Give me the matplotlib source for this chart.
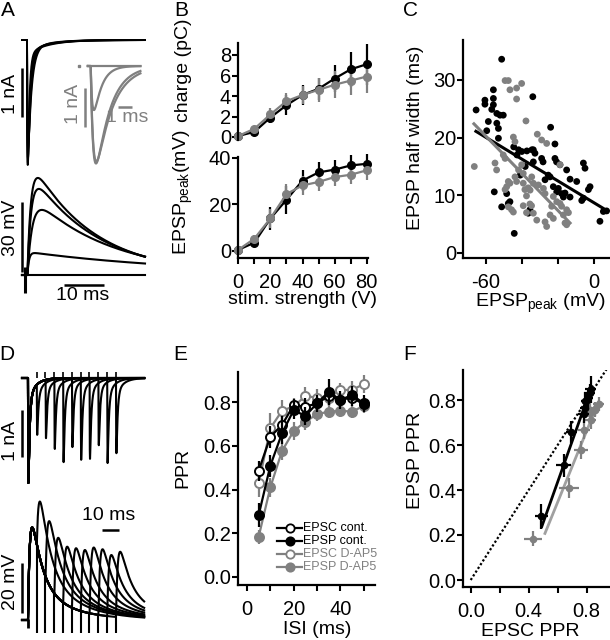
import numpy as np
import matplotlib
matplotlib.use('Agg')
import matplotlib.pyplot as plt
from matplotlib.lines import Line2D

W, H = 610, 640
BLACK = '#000000'
GREY = '#808080'
LGREY = '#a0a0a0'

# ---------------- values ----------------
# B: input-output curves
stim_v = [0, 10, 20, 30, 40, 50, 60, 70, 80]
charge_cont = [0.1, 0.5, 1.9, 3.1, 4.1, 4.7, 5.7, 6.6, 7.1]
charge_cont_sem = [0.1, 0.2, 0.5, 1.0, 1.0, 1.1, 1.3, 1.7, 2.0]
charge_dap5 = [0.1, 0.8, 2.2, 3.5, 4.1, 4.6, 5.1, 5.5, 5.9]
charge_dap5_sem = [0.1, 0.3, 0.6, 0.8, 0.9, 1.2, 1.3, 1.4, 1.6]
epsp_cont = [0.5, 3.6, 14.0, 22.0, 30.3, 33.8, 35.0, 36.8, 37.5]
epsp_cont_sem = [0.5, 1.5, 5.0, 6.0, 4.6, 4.5, 4.3, 4.3, 4.3]
epsp_dap5 = [0.5, 5.3, 14.0, 24.5, 28.2, 29.7, 31.8, 32.8, 34.7]
epsp_dap5_sem = [0.5, 1.5, 4.0, 4.5, 4.0, 4.0, 4.0, 4.0, 4.0]

# C: half width vs EPSP peak
c_black_x = [-51.3, -55.9, -60.6, -60.6, -55.9, -55.9, -56.8, -65.5, -54.0, -52.2,
             -50.4, -58.7, -54.0, -53.1, -59.6, -53.1, -34.0, -44.6, -41.9, -40.1,
             -37.3, -34.5, -42.8, -38.2, -41.0, -55.4, -51.3, -47.6, -46.7, -48.5,
             -44.3, -36.5, -35.6, -24.1, -21.7, -33.7, -32.8, -33.7, -29.1, -28.3,
             -21.7, -20.8, -18.9, -15.2, -5.9, -5.0, -25.4, -24.4, -27.2, -13.3,
             -9.6, -22.6, -19.8, -20.7, -18.0, -17.0, -13.3, -16.1, -5.9, -6.8,
             -2.2, -3.1, 5.2, 7.0, 3.3]
c_black_y = [33.6, 28.3, 26.5, 25.8, 26.8, 25.7, 24.9, 24.8, 24.2, 23.9,
             23.9, 22.8, 22.5, 21.6, 21.2, 19.9, 27.1, 18.4, 17.9, 17.6,
             17.7, 17.9, 17.0, 15.0, 13.5, 10.6, 8.0, 8.6, 8.9, 10.3,
             3.4, 6.9, 7.5, 21.8, 18.9, 17.9, 17.3, 15.8, 16.4, 15.8,
             16.4, 15.8, 15.3, 14.4, 15.6, 14.7, 13.5, 13.2, 12.7, 12.8,
             12.4, 11.5, 11.2, 10.6, 10.3, 9.7, 9.7, 10.4, 9.5, 9.1,
             11.5, 11.0, 7.2, 7.3, 5.5]
c_grey_x = [-49.4, -47.6, -46.7, -43.0, -40.2, -43.0, -37.8, -66.5, -55.0, -54.1,
            -50.4, -49.4, -44.8, -43.9, -47.6, -48.5, -49.4, -46.7, -47.6, -45.8,
            -44.8, -43.0, -39.3, -38.4, -36.5, -37.5, -35.6, -34.7, -39.3, -37.5,
            -41.9, -40.2, -43.9, -39.3, -31.5, -29.1, -26.3, -18.9, -22.6, -20.7,
            -23.5, -18.9, -18.0, -15.2, -14.2, -17.0, -16.1, -15.2, -24.4, -22.6,
            -27.2, -26.3, -31.8, -33.7, -30.9, -28.1, -27.2, -34.6, -33.7, -35.5]
c_grey_y = [29.9, 29.9, 28.3, 28.6, 29.4, 26.7, 22.9, 15.0, 15.6, 14.4,
            17.0, 16.4, 20.1, 19.3, 12.4, 11.5, 11.0, 12.1, 8.0, 7.5,
            7.1, 12.4, 12.1, 11.0, 11.3, 9.9, 8.5, 8.2, 8.2, 7.0,
            14.4, 15.3, 13.2, 13.8, 20.6, 19.6, 19.0, 15.3, 9.8, 8.9,
            8.1, 8.6, 8.1, 7.5, 7.0, 6.6, 5.2, 4.9, 6.6, 6.0,
            5.4, 4.6, 5.7, 6.9, 11.8, 11.2, 10.3, 13.2, 12.1, 10.9]
c_fit_black_x = [-65.6, 8.0]
c_fit_black_y = [21.1, 7.2]
c_fit_grey_x = [-66.7, -13.3]
c_fit_grey_y = [22.4, 5.2]

# E: paired-pulse ratio vs ISI
isi_ms = [5, 10, 15, 20, 25, 30, 35, 40, 45, 50]
ppr_epsc_cont = [0.486, 0.641, 0.695, 0.786, 0.778, 0.794, 0.827, 0.81, 0.82, 0.79]
ppr_epsc_cont_sem = [0.046, 0.05, 0.04, 0.03, 0.04, 0.03, 0.04, 0.03, 0.04, 0.03]
ppr_epsp_cont = [0.283, 0.509, 0.657, 0.763, 0.736, 0.794, 0.847, 0.809, 0.832, 0.794]
ppr_epsp_cont_sem = [0.055, 0.05, 0.05, 0.04, 0.04, 0.04, 0.06, 0.04, 0.04, 0.04]
ppr_epsc_dap5 = [0.428, 0.68, 0.76, 0.78, 0.827, 0.82, 0.82, 0.855, 0.855, 0.882]
ppr_epsc_dap5_sem = [0.063, 0.07, 0.05, 0.04, 0.04, 0.04, 0.04, 0.03, 0.04, 0.04]
ppr_epsp_dap5 = [0.184, 0.41, 0.576, 0.667, 0.71, 0.744, 0.756, 0.76, 0.756, 0.782]
ppr_epsp_dap5_sem = [0.033, 0.044, 0.04, 0.04, 0.04, 0.03, 0.03, 0.03, 0.03, 0.03]

# F: regression lines EPSP PPR vs EPSC PPR
f_fit_black_x = [0.49, 0.834]
f_fit_black_y = [0.237, 0.86]
f_fit_grey_x = [0.512, 0.88]
f_fit_grey_y = [0.207, 0.79]

# A: example traces (peak amplitudes and kinetics)
a_epsc_amp = [2.55, 2.5, 2.4, 2.2]          # nA
a_epsc_tau = [0.4, 0.55, 0.7, 0.9]          # ms
inset_amp = [2.5, 2.45, 1.13, 0.0]          # nA
inset_tau = [1.0, 1.15, 0.55, 1.0]
inset_rise = [0.22, 0.22, 0.15, 0.2]
a_epsp_amp = [41.6, 36.9, 27.9, 9.4, 0.0]   # mV
a_epsp_rise = [0.9, 1.0, 1.3, 0.4, 1.0]
a_epsp_tau = [15.5, 16.5, 19.5, 42.0, 10.0]

# D: paired-pulse traces (peak level of the second response per ISI)
d_first_epsc = 2.23                          # nA
d_second_epsc = [1.21, 1.28, 1.51, 1.79, 1.47, 1.74, 1.72, 1.43, 1.81, 1.60]
d_first_epsp = 37.0                          # mV
d_second_epsp = [46.4, 39.3, 32.8, 29.3, 28.7, 28.0, 29.0, 28.3, 26.0, 27.3]


def kinetic(t, rise, taus, weights):
    """Unit-peak synaptic waveform, zero before t=0."""
    def raw(x):
        x = np.clip(x, 0, None)
        return (1 - np.exp(-x / rise)) * sum(w * np.exp(-x / tau) for w, tau in zip(weights, taus))
    grid = np.linspace(0, 6 * max(taus), 20000)
    g = raw(grid)
    y = raw(np.asarray(t, dtype=float)) / g.max()
    y[np.asarray(t) < 0] = 0
    return y, grid[np.argmax(g)]


plt.rcParams.update({
    'font.family': ['Liberation Sans', 'DejaVu Sans'],
    'font.size': 14,
    'axes.unicode_minus': False,
    'mathtext.fontset': 'custom',
    'mathtext.rm': 'Liberation Sans',
    'mathtext.it': 'Liberation Sans:italic',
})

fig = plt.figure(figsize=(W / 100, H / 100), dpi=100)


def px_axes(x0, y0, x1, y1):
    return fig.add_axes([x0 / W, 1 - y1 / H, (x1 - x0) / W, (y1 - y0) / H])


def trace_axes(box, t0, sx, base, sy):
    x0, y0, x1, y1 = box
    ax = px_axes(*box)
    ax.set_xlim((x0 - t0) / sx, (x1 - t0) / sx)
    ax.set_ylim((base - y1) / sy, (base - y0) / sy)
    ax.axis('off')
    return ax


def style(ax, xlim, ylim):
    ax.set_xlim(xlim)
    ax.set_ylim(ylim)
    ax.patch.set_alpha(0)
    for s in ('top', 'right'):
        ax.spines[s].set_visible(False)
    for s in ('left', 'bottom'):
        ax.spines[s].set_linewidth(1.6)
    ax.tick_params(which='both', direction='out', length=4, width=1.5, labelsize=14.5)
    ax.tick_params(axis='y', pad=1)
    ax.tick_params(axis='x', pad=7)


def ftext(x, y, s, **kw):
    fig.text(x / W, 1 - y / H, s, ha='center', va='center', **kw)


def bar(ax, xs, ys, color=BLACK, lw=1.8):
    ax.plot(xs, ys, color=color, lw=lw, solid_capstyle='butt', clip_on=False)


# ---------------- panel letters ----------------
for letter, (x, y) in zip('ABCDEF', [(8, 10), (181, 10), (410, 11), (7, 354), (180, 354), (410, 354)]):
    ftext(x, y, letter, fontsize=15)

# ---------------- A: traces ----------------
axA1 = trace_axes((15, 30, 150, 172), 27, 4.0, 40, 49.0)
t = np.linspace(-1.25, 29.5, 6000)
for amp, tau in zip(a_epsc_amp, a_epsc_tau):
    y, _ = kinetic(t, 0.12, [tau, 5.0], [0.94, 0.06])
    axA1.plot(t, -amp * y, color=BLACK, lw=1.4)
bar(axA1, [-1.25, -1.25], [-0.571, -1.571])
ftext(11, 94, '1 nA', rotation=90)

axIn = trace_axes((75, 55, 150, 172), 90, 14.0, 66, 39.0)
ti = np.linspace(-0.15, 3.6, 3000)
for amp, tau, rise in zip(inset_amp, inset_tau, inset_rise):
    y, _ = kinetic(ti - 0.05, rise, [tau], [1.0])
    axIn.plot(ti, -amp * y, color=GREY, lw=1.6)
axIn.plot([-0.79], [0.0], marker='s', ms=2, color=GREY, clip_on=False)
bar(axIn, [-0.36, -0.36], [-0.564, -1.564], color=GREY)
bar(axIn, [2.0, 3.0], [-1.05, -1.05], color=GREY)
ftext(74, 104, '1 nA', rotation=90, color=GREY)
ftext(127, 118, '1 ms', color=GREY)

axA2 = trace_axes((15, 170, 150, 305), 27, 4.0, 275, 2.333)
for amp, rise, tau in zip(a_epsp_amp, a_epsp_rise, a_epsp_tau):
    y, _ = kinetic(t - 0.1, rise, [tau], [1.0])
    axA2.plot(t, amp * y, color=BLACK, lw=1.5)
bar(axA2, [-0.4, -0.4], [-7.7, 3.4], lw=2.2)
bar(axA2, [-1.25, -1.25], [31.3, 1.3])
bar(axA2, [9.25, 19.25], [-4.3, -4.3])
ftext(11, 228, '30 mV', rotation=90)
ftext(83, 296, '10 ms')

# ---------------- D: paired-pulse traces ----------------
axD1 = trace_axes((15, 365, 150, 500), 28, 1.76, 378, 47.0)
td = np.linspace(-3.4, 66.0, 8000)
k1, tp = kinetic(td, 0.1, [0.7, 4.0], [0.85, 0.15])
for isi, peak2 in zip(isi_ms, d_second_epsc):
    k2, _ = kinetic(td - isi, 0.1, [0.7, 4.0], [0.85, 0.15])
    resid, _ = kinetic(np.array([isi + tp]), 0.1, [0.7, 4.0], [0.85, 0.15])
    a2 = peak2 - d_first_epsc * resid[0]
    axD1.plot(td, -(d_first_epsc * k1 + a2 * k2), color=BLACK, lw=1.5)
    axD1.vlines(isi - 0.15, 0, 0.13, color=BLACK, lw=1.2)
bar(axD1, [-3.4, -3.4], [-0.68, -1.68])
ftext(11, 441, '1 nA', rotation=90)

axD2 = trace_axes((15, 495, 150, 640), 28, 1.76, 620, 2.5)
ekin = dict(rise=1.2, taus=[6.0, 20.0], weights=[0.75, 0.25])
e1, etp = kinetic(td, **ekin)
for isi, peak2 in zip(isi_ms, d_second_epsp):
    e2, _ = kinetic(td - isi, **ekin)
    resid, _ = kinetic(np.array([isi + etp]), **ekin)
    a2 = peak2 - d_first_epsp * resid[0]
    axD2.plot(td, d_first_epsp * e1 + a2 * e2, color=BLACK, lw=1.5)
    at_stim, _ = kinetic(np.array([isi]), **ekin)
    axD2.vlines(isi - 0.15, -5.0, d_first_epsp * at_stim[0], color=BLACK, lw=1.5)
axD2.vlines(-0.2, -3.0, 0.5, color=BLACK, lw=2.0)
bar(axD2, [-3.4, -3.4], [22.8, 2.8])
bar(axD2, [42.0, 51.5], [36.0, 36.0])
ftext(11, 582, '20 mV', rotation=90)
ftext(109, 516, '10 ms')

# ---------------- B ----------------
sxB = (366.7 - 238.3) / 80
axB1 = px_axes(238, 43, 368, 140)
style(axB1, ((238 - 238.3) / sxB, (368 - 238.3) / sxB), ((137 - 140) / 10.25, (137 - 43) / 10.25))
axB1.spines['bottom'].set_visible(False)
axB1.tick_params(bottom=False, labelbottom=False)
axB1.set_yticks([0, 2, 4, 6, 8])
for vals, sem, col in [(charge_cont, charge_cont_sem, BLACK), (charge_dap5, charge_dap5_sem, GREY)]:
    axB1.errorbar(stim_v, vals, yerr=sem, fmt='-o', color=col, ms=5.5, lw=1.6,
                  elinewidth=1.6, capsize=0, clip_on=False)

axB2 = px_axes(238, 157, 368, 258)
style(axB2, ((238 - 238.3) / sxB, (368 - 238.3) / sxB), ((251 - 258) / 2.325, (251 - 157) / 2.325))
axB2.set_yticks([0, 20, 40])
axB2.set_xticks([0, 20, 40, 60, 80])
axB2.set_xticks([10, 30, 50, 70], minor=True)
for vals, sem, col in [(epsp_cont, epsp_cont_sem, BLACK), (epsp_dap5, epsp_dap5_sem, GREY)]:
    axB2.errorbar(stim_v, vals, yerr=sem, fmt='-o', color=col, ms=5.5, lw=1.6,
                  elinewidth=1.6, capsize=0, clip_on=False)
ftext(183, 70, 'charge (pC)', rotation=90)
ftext(183, 192, 'EPSP$_\\mathregular{peak}$(mV)', rotation=90)
ftext(303, 300, 'stim. strength (V)')

# ---------------- C ----------------
axC = px_axes(463, 40, 609, 258)
style(axC, ((463 - 594) / 1.8, (609 - 594) / 1.8), ((253 - 258) / 5.767, (253 - 40) / 5.767))
axC.set_xticks([-60, 0])
axC.set_xticks([-40, -20], minor=True)
axC.set_yticks([0, 10, 20, 30])
axC.scatter(c_black_x, c_black_y, s=24, color=BLACK, edgecolors='none', clip_on=False, zorder=3)
axC.scatter(c_grey_x, c_grey_y, s=24, color=GREY, edgecolors='none', clip_on=False, zorder=3)
axC.plot(c_fit_black_x, c_fit_black_y, color=BLACK, lw=2.2, zorder=4)
axC.plot(c_fit_grey_x, c_fit_grey_y, color=GREY, lw=2.2, zorder=4)
ftext(416, 138, 'EPSP half width (ms)', rotation=90)
ftext(540, 303, 'EPSP$_\\mathregular{peak}$ (mV)')

# ---------------- E ----------------
axE = px_axes(238, 372, 375, 585)
style(axE, ((238 - 247) / 2.334, (375 - 247) / 2.334), ((577 - 585) / 218.75, (577 - 372) / 218.75))
axE.set_yticks([0.0, 0.2, 0.4, 0.6, 0.8])
axE.set_yticklabels(['0.0', '0.2', '0.4', '0.6', '0.8'])
axE.set_xticks([0, 20, 40])
axE.set_xticks([10, 30, 50], minor=True)
e_series = [
    ('EPSP D-AP5', ppr_epsp_dap5, ppr_epsp_dap5_sem, GREY, GREY, 2),
    ('EPSC D-AP5', ppr_epsc_dap5, ppr_epsc_dap5_sem, GREY, 'white', 3),
    ('EPSC cont.', ppr_epsc_cont, ppr_epsc_cont_sem, BLACK, 'white', 4),
    ('EPSP cont.', ppr_epsp_cont, ppr_epsp_cont_sem, BLACK, BLACK, 5),
]
for name, vals, sem, col, face, z in e_series:
    axE.errorbar(isi_ms, vals, yerr=sem, fmt='-o', color=col, mfc=face, mec=col, mew=1.4,
                 ms=6.5, lw=1.6, elinewidth=1.6, capsize=0, zorder=z, clip_on=False)
ftext(183, 468, 'PPR', rotation=90)
ftext(317, 630, 'ISI (ms)')

# legend drawn by hand to match the tight row spacing
legend_rows = [('EPSC cont.', BLACK, 'white'), ('EPSP cont.', BLACK, BLACK),
               ('EPSC D-AP5', GREY, 'white'), ('EPSP D-AP5', GREY, GREY)]
for i, (name, col, face) in enumerate(legend_rows):
    yrow = 1 - (528 + 13 * i) / H
    fig.add_artist(Line2D([277 / W, 302 / W], [yrow, yrow], color=col, lw=1.6,
                          transform=fig.transFigure))
    fig.add_artist(Line2D([289.5 / W], [yrow], marker='o', ms=6, mfc=face, mec=col, mew=1.3,
                          color=col, transform=fig.transFigure))
    fig.text(303 / W, yrow, name, fontsize=9, color=col, ha='left', va='center')

# ---------------- F ----------------
axF = px_axes(463, 370, 609, 587)
style(axF, ((463 - 470.7) / 145, (609 - 470.7) / 145), ((580 - 587) / 225, (580 - 370) / 225))
axF.set_yticks([0.0, 0.2, 0.4, 0.6, 0.8])
axF.set_yticklabels(['0.0', '0.2', '0.4', '0.6', '0.8'])
axF.set_xticks([0.0, 0.4, 0.8])
axF.set_xticklabels(['0.0', '0.4', '0.8'])
axF.set_xticks([0.2, 0.6], minor=True)
axF.plot([0, 1], [0, 1], color=BLACK, lw=1.6, linestyle=(0, (1, 1)), zorder=1)
axF.plot(f_fit_grey_x, f_fit_grey_y, color=LGREY, lw=2.0, zorder=2)
axF.errorbar(ppr_epsc_dap5, ppr_epsp_dap5, xerr=ppr_epsc_dap5_sem, yerr=ppr_epsp_dap5_sem,
             fmt='o', color=GREY, ms=4.5, elinewidth=1.6, capsize=0, zorder=3, clip_on=False)
axF.plot(f_fit_black_x, f_fit_black_y, color=BLACK, lw=2.0, zorder=4)
axF.errorbar(ppr_epsc_cont, ppr_epsp_cont, xerr=ppr_epsc_cont_sem, yerr=ppr_epsp_cont_sem,
             fmt='o', color=BLACK, ms=4.5, elinewidth=1.6, capsize=0, zorder=5, clip_on=False)
ftext(416, 460, 'EPSP PPR', rotation=90)
ftext(530, 631, 'EPSC PPR')

fig.savefig('out.png', dpi=100)
